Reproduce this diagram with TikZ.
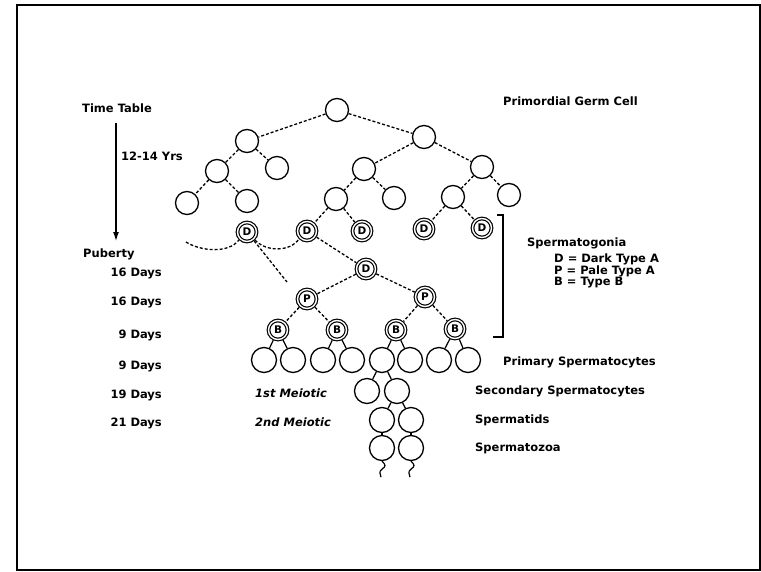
\documentclass[tikz,border=0pt]{standalone}
\usepackage{fontspec}
\setmainfont{DejaVu Sans}
\usetikzlibrary{arrows.meta}
\begin{document}
\begin{tikzpicture}[x=1pt,y=-1pt,
 cell/.style={circle,draw,line width=1.3pt,minimum size=23pt,inner sep=0pt,outer sep=0.65pt},
 bigcell/.style={cell,minimum size=25pt},
 dnode/.style={circle,draw,line width=1.2pt,double,double distance=1.4pt,minimum size=19pt,inner sep=0pt,outer sep=1.9pt,font=\fontsize{10.5}{10.5}\selectfont\bfseries},
 conn/.style={line width=1.3pt,dash pattern=on 3pt off 2pt},
 sol/.style={line width=1.2pt},
 lab/.style={font=\fontsize{11.5}{13}\selectfont\bfseries,inner sep=0pt},
 ilab/.style={font=\fontsize{11.5}{13}\selectfont\bfseries\itshape,inner sep=0pt},
]
\useasboundingbox (0,0) rectangle (761,571);
\draw[line width=2pt] (16.5,5) rectangle (759.5,569.5);

% upper tree
\node[cell] (root) at (337,110) {};
\node[cell] (a) at (247,141) {};
\node[cell] (b) at (424,137) {};
\node[cell] (aa) at (217,171) {};
\node[cell] (ab) at (277,168) {};
\node[cell] (ba) at (364,169) {};
\node[cell] (bb) at (482,167) {};
\node[cell] (aaa) at (187,203) {};
\node[cell] (aab) at (247,201) {};
\node[cell] (baa) at (336,199) {};
\node[cell] (bab) at (394,198) {};
\node[cell] (bba) at (453,197) {};
\node[cell] (bbb) at (509,195) {};

\draw[conn] (root) -- (a);
\draw[conn] (root) -- (b);
\draw[conn] (a) -- (aa);
\draw[conn] (a) -- (ab);
\draw[conn] (b) -- (ba);
\draw[conn] (b) -- (bb);
\draw[conn] (aa) -- (aaa);
\draw[conn] (aa) -- (aab);
\draw[conn] (ba) -- (baa);
\draw[conn] (ba) -- (bab);
\draw[conn] (bb) -- (bba);
\draw[conn] (bb) -- (bbb);

% dark type A
\node[dnode] (d1) at (247,232) {D};
\node[dnode] (d2) at (307,231) {D};
\node[dnode] (d3) at (362,231) {D};
\node[dnode] (d4) at (424,229) {D};
\node[dnode] (d5) at (482,228) {D};
\draw[conn] (baa) -- (d2);
\draw[conn] (baa) -- (d3);
\draw[conn] (bba) -- (d4);
\draw[conn] (bba) -- (d5);

% dashed separation curve
\coordinate (cs) at (186,242);
\draw[conn] (cs) .. controls (200,251) and (228,254) .. (d1.south west);
\draw[conn] (d1.south east) .. controls (266,252) and (290,252) .. (d2.south west);
\coordinate (dend) at (287,282);
\draw[conn] (d1) -- (dend);

\node[dnode] (dc) at (366,269) {D};
\draw[conn] (d2) -- (dc);
\node[dnode] (p1) at (307,299) {P};
\node[dnode] (p2) at (425,297) {P};
\draw[conn] (dc) -- (p1);
\draw[conn] (dc) -- (p2);

\node[dnode] (b1) at (278,330) {B};
\node[dnode] (b2) at (337,330) {B};
\node[dnode] (b3) at (396,330) {B};
\node[dnode] (b4) at (455,329) {B};
\draw[conn] (p1) -- (b1);
\draw[conn] (p1) -- (b2);
\draw[conn] (p2) -- (b3);
\draw[conn] (p2) -- (b4);

% primary spermatocytes
\foreach \n/\x in {1/264,2/293,3/323,4/352,5/382,6/410,7/439,8/468}
  \node[bigcell] (m\n) at (\x,360) {};
\draw[sol] (b1) -- (m1); \draw[sol] (b1) -- (m2);
\draw[sol] (b2) -- (m3); \draw[sol] (b2) -- (m4);
\draw[sol] (b3) -- (m5); \draw[sol] (b3) -- (m6);
\draw[sol] (b4) -- (m7); \draw[sol] (b4) -- (m8);

% secondary, spermatids, spermatozoa
\node[bigcell] (s1) at (367,391) {};
\node[bigcell] (s2) at (397,391) {};
\draw[sol] (m5) -- (s1); \draw[sol] (m5) -- (s2);
\node[bigcell] (t1) at (382,420) {};
\node[bigcell] (t2) at (411,420) {};
\draw[sol] (s2) -- (t1); \draw[sol] (s2) -- (t2);
\node[bigcell] (z1) at (382,448) {};
\node[bigcell] (z2) at (411,448) {};
\draw[sol] (t1) -- (z1); \draw[sol] (t2) -- (z2);
\draw[sol] (z1.south) .. controls +(4,4) and +(4,-3) .. ++(0,8) .. controls +(-4,3) and +(0,-3) .. ++(-1,8);
\draw[sol] (z2.south) .. controls +(4,4) and +(4,-3) .. ++(0,8) .. controls +(-4,3) and +(0,-3) .. ++(-1,8);

% time table
\node[lab,anchor=west] (tt) at (82,108) {Time Table};
\node[lab,anchor=west] (pub) at (83,254) {Puberty};
\coordinate (ttop) at (116,123);
\coordinate (tbot) at (116,241);
\draw[line width=1.3pt,-{Latex[length=9pt,width=6pt]}] (ttop) -- (tbot);
\node[lab,anchor=west] (yrs) at (121,156) {12-14 Yrs};
\node[lab,anchor=east] (t1d) at (162,273) {16 Days};
\node[lab,anchor=east] (t2d) at (162,302) {16 Days};
\node[lab,anchor=east] (t3d) at (162,335) {9 Days};
\node[lab,anchor=east] (t4d) at (162,366) {9 Days};
\node[lab,anchor=east] (t5d) at (162,395) {19 Days};
\node[lab,anchor=east] (t6d) at (162,423) {21 Days};
\node[ilab,anchor=west] (me1) at (255,393) {1st Meiotic};
\node[ilab,anchor=west] (me2) at (255,422) {2nd Meiotic};

% right labels
\node[lab,anchor=west] (pgc) at (503,101) {Primordial Germ Cell};
\coordinate (brt) at (497,215);
\coordinate (brtr) at (503,215);
\coordinate (brbr) at (503,337);
\coordinate (brb) at (493,337);
\draw[line width=1.3pt] (brt) -- (brtr) -- (brbr) -- (brb);
\node[lab,anchor=west] (spg) at (527,243) {Spermatogonia};
\node[lab,anchor=west] (lgd) at (554,259) {D = Dark Type A};
\node[lab,anchor=west] (lgp) at (554,271) {P = Pale Type A};
\node[lab,anchor=west] (lgb) at (554,283) {B = Type B};
\node[lab,anchor=west] (prs) at (503,362) {Primary Spermatocytes};
\node[lab,anchor=west] (scs) at (475,391) {Secondary Spermatocytes};
\node[lab,anchor=west] (std) at (475,420) {Spermatids};
\node[lab,anchor=west] (stz) at (475,448) {Spermatozoa};
\end{tikzpicture}
\end{document}
